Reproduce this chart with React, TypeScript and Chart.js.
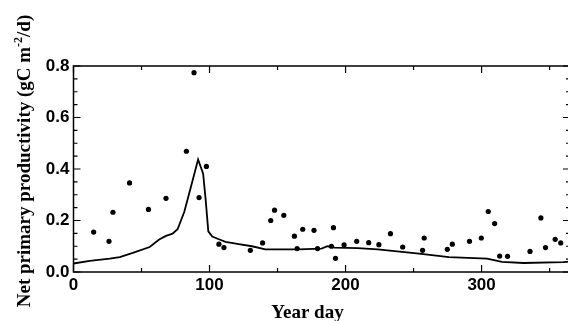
import React, { useEffect, useRef } from "react";
import { Chart, registerables } from "chart.js";

Chart.register(...registerables);

// Observed net primary productivity (points)
const obsDays = [
  14.8, 26.1, 29, 41.2, 55.1, 68, 83, 88.6, 92.3, 97.7,
  106.9, 110.6, 130, 139, 145, 147.8, 154.6, 162.4, 164.4, 168.5,
  176.8, 179.4, 189.6, 191.1, 192.6, 198.9, 208.2, 217, 224.5, 233,
  242, 256.6, 257.8, 274.8, 278.5, 291.1, 299.8, 304.9, 309.6, 313.3,
  319.1, 335.6, 343.6, 347, 354.1, 358.2,
];
const obsValues = [
  0.155, 0.119, 0.232, 0.346, 0.243, 0.286, 0.469, 0.774, 0.289, 0.41,
  0.108, 0.095, 0.084, 0.113, 0.2, 0.24, 0.22, 0.139, 0.091, 0.166,
  0.162, 0.091, 0.1, 0.172, 0.053, 0.105, 0.119, 0.114, 0.106, 0.149,
  0.097, 0.084, 0.132, 0.088, 0.108, 0.119, 0.132, 0.235, 0.188, 0.062,
  0.061, 0.08, 0.21, 0.095, 0.127, 0.113,
];

// Modelled net primary productivity (line)
const modelDays = [
  0, 12, 26.6, 34, 43.6, 56, 63, 68, 72.8, 76.5,
  81.4, 86.3, 91.6, 95.3, 97.2, 99.1, 102, 106.4, 111.8, 121.5,
  131.2, 141, 165.3, 182.3, 186.7, 192, 209, 223.7, 254, 276,
  304, 315, 330.8, 360, 365,
];
const modelValues = [
  0.033, 0.043, 0.052, 0.058, 0.074, 0.097, 0.126, 0.14, 0.149, 0.166,
  0.233, 0.33, 0.437, 0.382, 0.278, 0.158, 0.138, 0.128, 0.117, 0.108,
  0.1, 0.088, 0.088, 0.091, 0.1, 0.095, 0.093, 0.088, 0.071, 0.058,
  0.052, 0.039, 0.035, 0.038, 0.04,
];

const xTitle = "Year day";
const yTitleParts = ["Net primary productivity (gC m", "-2", "/d)"];

const SERIF = "'Liberation Serif', 'Times New Roman', serif";
const SANS = "'Liberation Sans', Arial, sans-serif";

const framePlugin = {
  id: "frame",
  afterDraw(chart: any) {
    const { ctx, chartArea } = chart;
    const { left, right, top, bottom } = chartArea;
    const xs = chart.scales.x;
    const ys = chart.scales.y;
    ctx.save();
    ctx.strokeStyle = "#000";
    ctx.lineWidth = 1.5;
    ctx.strokeRect(left, top, right - left, bottom - top);
    ctx.lineWidth = 1.2;
    ctx.beginPath();
    xs.ticks.forEach((t: any) => {
      const v = t.value;
      if (Math.abs(v / 50 - Math.round(v / 50)) > 1e-6) return;
      const major = Math.abs(v / 100 - Math.round(v / 100)) < 1e-6;
      const len = major ? 7 : 4;
      const px = xs.getPixelForValue(v);
      ctx.moveTo(px, bottom);
      ctx.lineTo(px, bottom - len);
      ctx.moveTo(px, top);
      ctx.lineTo(px, top + len);
    });
    ys.ticks.forEach((t: any) => {
      const v = t.value;
      const major = Math.abs(v / 0.2 - Math.round(v / 0.2)) < 1e-6;
      const len = major ? 7 : 4;
      const py = ys.getPixelForValue(v);
      ctx.moveTo(left, py);
      ctx.lineTo(left + len, py);
      ctx.moveTo(right, py);
      ctx.lineTo(right - len, py);
    });
    ctx.stroke();

    // axis titles
    ctx.fillStyle = "#000";
    ctx.textBaseline = "alphabetic";
    ctx.textAlign = "center";
    ctx.font = `bold 19px ${SERIF}`;
    ctx.fillText(xTitle, 307.5, 318);

    const mainFont = `bold 19px ${SERIF}`;
    const supFont = `bold 12px ${SERIF}`;
    ctx.textAlign = "left";
    const widths = yTitleParts.map((p, i) => {
      ctx.font = i === 1 ? supFont : mainFont;
      return ctx.measureText(p).width;
    });
    const total = widths.reduce((a, b) => a + b, 0);
    ctx.translate(30, 161);
    ctx.rotate(-Math.PI / 2);
    let x = -total / 2;
    yTitleParts.forEach((p, i) => {
      ctx.font = i === 1 ? supFont : mainFont;
      ctx.fillText(p, x, i === 1 ? -8 : 0);
      x += widths[i];
    });
    ctx.restore();
  },
};

export default function App() {
  const ref = useRef<HTMLCanvasElement | null>(null);

  useEffect(() => {
    if (!ref.current) return;
    const chart = new Chart(ref.current, {
      type: "scatter",
      data: {
        datasets: [
          {
            label: "Model",
            data: modelDays.map((d, i) => ({ x: d, y: modelValues[i] })),
            showLine: true,
            borderColor: "#000",
            borderWidth: 1.8,
            pointRadius: 0,
            tension: 0,
            fill: false,
          },
          {
            label: "Observed",
            data: obsDays.map((d, i) => ({ x: d, y: obsValues[i] })),
            showLine: false,
            pointRadius: 2.6,
            pointBackgroundColor: "#000",
            pointBorderColor: "#000",
            pointBorderWidth: 0,
          },
        ],
      },
      options: {
        animation: false,
        responsive: false,
        devicePixelRatio: 1,
        layout: { padding: { top: 66, right: 1, left: 0, bottom: 0 } },
        plugins: {
          legend: { display: false },
          tooltip: { enabled: false },
        },
        scales: {
          x: {
            type: "linear",
            min: 0,
            max: 365,
            grid: { display: false, drawTicks: false },
            border: { display: false },
            ticks: {
              stepSize: 50,
              includeBounds: false,
              maxRotation: 0,
              autoSkip: false,
              padding: 3,
              color: "#000",
              font: { family: SANS, size: 17, weight: "bold" },
              callback: (v: any) => (Math.abs(v / 100 - Math.round(v / 100)) < 1e-6 ? String(v) : ""),
            },
            afterFit: (s: any) => {
              s.height = 49;
            },
          },
          y: {
            type: "linear",
            min: 0,
            max: 0.8,
            grid: { display: false, drawTicks: false },
            border: { display: false },
            ticks: {
              stepSize: 0.05,
              autoSkip: false,
              padding: 4,
              color: "#000",
              font: { family: SANS, size: 17, weight: "bold" },
              callback: (v: any) =>
                Math.abs(v / 0.2 - Math.round(v / 0.2)) < 1e-6 ? Number(v).toFixed(1) : "",
            },
            afterFit: (s: any) => {
              s.width = 73.5;
            },
          },
        },
      },
      plugins: [framePlugin],
    });
    return () => chart.destroy();
  }, []);

  return (
    <div
      style={{
        position: "absolute",
        left: 0,
        top: 0,
        width: 568,
        height: 321,
        overflow: "hidden",
        background: "#fff",
      }}
    >
      <canvas ref={ref} width={574} height={321} style={{ display: "block", width: 574, height: 321 }} />
    </div>
  );
}
